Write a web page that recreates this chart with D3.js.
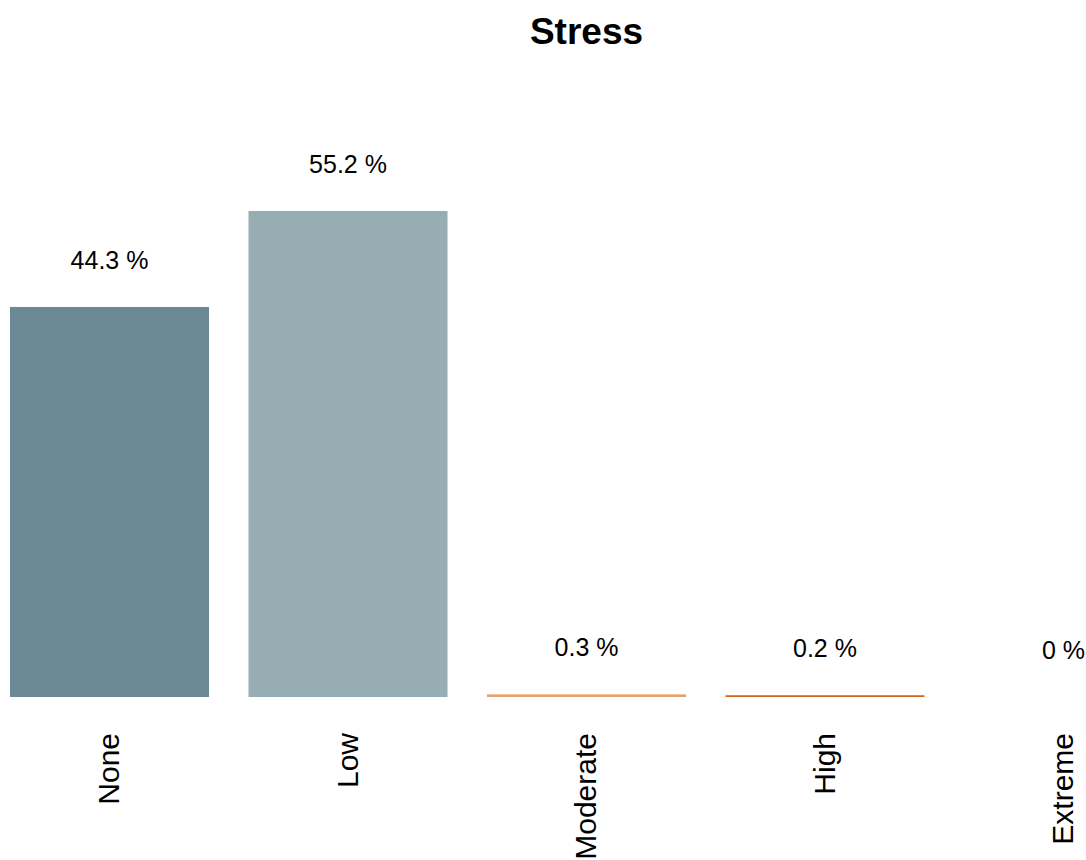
<!DOCTYPE html>
<html>
<head>
<meta charset="utf-8">
<script src="https://cdn.jsdelivr.net/npm/d3@7"></script>
<style>
  html, body { margin: 0; padding: 0; background: #fff; }
  svg { display: block; font-family: "Liberation Sans", Arial, Helvetica, sans-serif; }
</style>
</head>
<body>
<svg id="chart" width="1086" height="860"></svg>
<script>
// Share of responses per stress level (percent)
const categories = ["None", "Low", "Moderate", "High", "Extreme"];
const values = [44.3, 55.2, 0.3, 0.2, 0];
const valueLabels = ["44.3 %", "55.2 %", "0.3 %", "0.2 %", "0 %"];
const colors = ["#6b8994", "#96adb4", "#e8a06b", "#d4661c", "#b5421a"];
const title = "Stress";

const svg = d3.select("#chart");

// Plot area extends past the right edge of the canvas
const x = d3.scaleBand()
  .domain(categories)
  .range([10, 1163])
  .paddingInner(0.1656)
  .paddingOuter(0);

const baseline = 697;
const y = d3.scaleLinear()
  .domain([0, 55.2])
  .range([baseline, 211]);

const data = categories.map((c, i) => ({ cat: c, value: values[i], label: valueLabels[i], color: colors[i] }));

// Bars
svg.append("g")
  .selectAll("rect")
  .data(data)
  .join("rect")
  .attr("x", d => x(d.cat))
  .attr("y", d => y(d.value))
  .attr("width", x.bandwidth())
  .attr("height", d => baseline - y(d.value))
  .attr("fill", d => d.color);

// Value labels above bars
svg.append("g")
  .selectAll("text")
  .data(data)
  .join("text")
  .attr("x", d => x(d.cat) + x.bandwidth() / 2)
  .attr("y", d => y(d.value) - 38)
  .attr("text-anchor", "middle")
  .attr("font-size", 25)
  .attr("fill", "#000")
  .text(d => d.label);

// Category axis, labels rotated vertically
const xAxis = d3.axisBottom(x).tickSize(0).tickPadding(0);
const axisG = svg.append("g")
  .attr("transform", `translate(0,${baseline})`)
  .call(xAxis);
axisG.select(".domain").remove();
axisG.selectAll("text")
  .attr("font-family", "Liberation Sans, Arial, Helvetica, sans-serif")
  .attr("font-size", 30)
  .attr("fill", "#000")
  .attr("text-anchor", "end")
  .attr("transform", "rotate(-90)")
  .attr("x", -36)
  .attr("y", 0)
  .attr("dy", "0.33em");

// Title centred over the plot range
const [r0, r1] = x.range();
svg.append("text")
  .attr("x", (r0 + r1) / 2)
  .attr("y", 44)
  .attr("text-anchor", "middle")
  .attr("font-size", 37)
  .attr("font-weight", "bold")
  .attr("fill", "#000")
  .text(title);
</script>
</body>
</html>
